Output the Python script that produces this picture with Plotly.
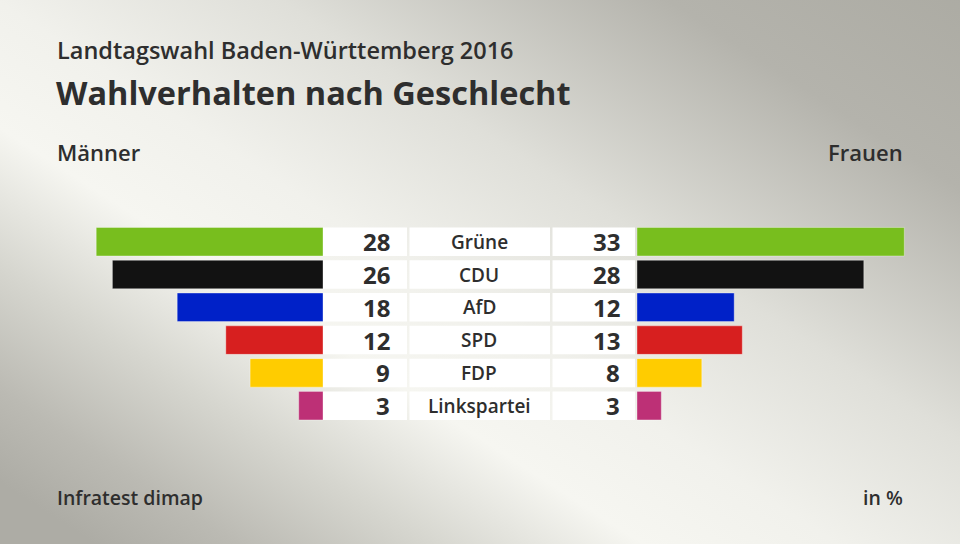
import base64
import plotly.graph_objects as go

# ---- data ----
parties = ["Grüne", "CDU", "AfD", "SPD", "FDP", "Linkspartei"]
men = [28, 26, 18, 12, 9, 3]
women = [33, 28, 12, 13, 8, 3]
colors = ["#78be1e", "#121212", "#0021c8", "#d71f1f", "#ffcc00", "#bd3076"]

title = "Wahlverhalten nach Geschlecht"
subtitle = "Landtagswahl Baden-Württemberg 2016"
left_label = "Männer"
right_label = "Frauen"
source = "Infratest dimap"
unit = "in %"

W, H = 960, 544
PX_PER_UNIT = 8.1
LEFT_BASE = 323
RIGHT_BASE = 637
ROW0 = 241.7
PITCH = 32.8
BAR_H = 0.87
TXT = "#2e2e2e"
FONT = "Open Sans"

# ---- background gradient (SVG) ----
svg = f'''<svg xmlns="http://www.w3.org/2000/svg" width="{W}" height="{H}" viewBox="0 0 {W} {H}">
<defs><linearGradient id="g" gradientUnits="userSpaceOnUse" x1="358" y1="-429" x2="-163" y2="377">
<stop offset="0" stop-color="#abaaa2"/>
<stop offset="0.2" stop-color="#b4b3ac"/>
<stop offset="0.42" stop-color="#dfdfd9"/>
<stop offset="0.58" stop-color="#f1f1ec"/>
<stop offset="0.69" stop-color="#f6f6f1"/>
<stop offset="0.81" stop-color="#d6d6cf"/>
<stop offset="0.92" stop-color="#bbbab3"/>
<stop offset="1" stop-color="#adaca5"/>
</linearGradient></defs>
<rect width="{W}" height="{H}" fill="url(#g)"/></svg>'''
bg_src = "data:image/svg+xml;base64," + base64.b64encode(svg.encode()).decode()

fig = go.Figure()

fig.add_trace(go.Bar(
    y=parties, x=men, orientation="h", xaxis="x", yaxis="y",
    marker=dict(color=colors, line=dict(color="rgba(255,255,255,0.35)", width=1)),
    width=BAR_H, hoverinfo="skip", showlegend=False,
))
fig.add_trace(go.Bar(
    y=parties, x=women, orientation="h", xaxis="x2", yaxis="y",
    marker=dict(color=colors, line=dict(color="rgba(255,255,255,0.35)", width=1)),
    width=BAR_H, hoverinfo="skip", showlegend=False,
))

xmax = LEFT_BASE / PX_PER_UNIT
ytop = (0 - ROW0) / PITCH
ybot = (H - ROW0) / PITCH

fig.update_layout(
    width=W, height=H,
    margin=dict(l=0, r=0, t=0, b=0),
    paper_bgcolor="#d2d2cb", plot_bgcolor="rgba(0,0,0,0)",
    bargap=0,
    xaxis=dict(domain=[0, LEFT_BASE / W], range=[xmax, 0], visible=False, fixedrange=True),
    xaxis2=dict(domain=[RIGHT_BASE / W, 1], range=[0, (W - RIGHT_BASE) / PX_PER_UNIT],
                visible=False, fixedrange=True),
    yaxis=dict(type="category", categoryorder="array", categoryarray=parties,
               range=[ybot, ytop], visible=False, fixedrange=True),
    images=[dict(source=bg_src, xref="paper", yref="paper", x=0, y=1, sizex=1, sizey=1,
                 sizing="stretch", xanchor="left", yanchor="top", layer="below")],
    font=dict(family=FONT, color=TXT),
)

# white boxes behind the numbers and labels
boxes = [(323, 407), (409.5, 550), (552.5, 635)]
shapes = []
for i, p in enumerate(parties):
    for x0, x1 in boxes:
        shapes.append(dict(type="rect", xref="paper", yref="y",
                           x0=x0 / W, x1=x1 / W, y0=i - BAR_H / 2, y1=i + BAR_H / 2,
                           fillcolor="white", line=dict(width=0), layer="below"))
fig.update_layout(shapes=shapes)

ann = []
for i, p in enumerate(parties):
    ann.append(dict(xref="paper", yref="y", x=392 / W, y=p, text=str(men[i]),
                    showarrow=False, xanchor="right", yanchor="middle",
                    font=dict(size=24, family=FONT, color=TXT, weight="bold")))
    ann.append(dict(xref="paper", yref="y", x=479 / W, y=p, text=p,
                    showarrow=False, xanchor="center", yanchor="middle",
                    font=dict(size=19, family=FONT, color=TXT, weight=600)))
    ann.append(dict(xref="paper", yref="y", x=622 / W, y=p, text=str(women[i]),
                    showarrow=False, xanchor="right", yanchor="middle",
                    font=dict(size=24, family=FONT, color=TXT, weight="bold")))

def txt(x, y, s, size, anchor="left", weight=600):
    return dict(xref="paper", yref="paper", x=x / W, y=1 - y / H, text=s, showarrow=False,
                xanchor=anchor, yanchor="middle",
                font=dict(size=size, family=FONT, color=TXT, weight=weight))

ann += [
    txt(55, 50, subtitle, 23.5),
    txt(54, 92, title, 32.5, weight="bold"),
    txt(55, 152, left_label, 22),
    txt(905, 152, right_label, 22, anchor="right"),
    txt(55, 497, source, 19.5),
    txt(905, 497, unit, 19.5, anchor="right"),
]
fig.update_layout(annotations=ann)

fig.write_html("out.html", config={"displayModeBar": False, "staticPlot": True},
               post_script="document.body.style.margin='0';")
